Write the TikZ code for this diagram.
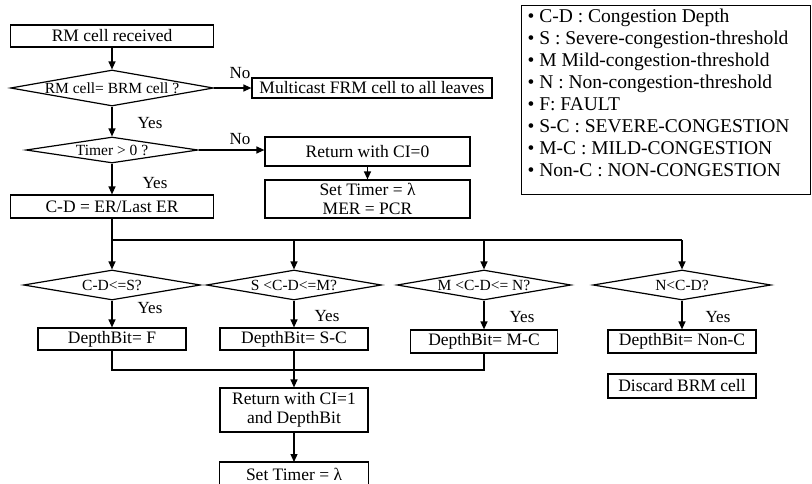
\documentclass[tikz,border=0pt]{standalone}
\usepackage{fontspec}
\setmainfont{Liberation Serif}
\usetikzlibrary{shapes.geometric,arrows.meta}
\newcommand{\dtx}[1]{\makebox[0pt][c]{#1}}
\begin{document}
\begin{tikzpicture}[x=1pt,y=-1pt,
  line width=1.2pt,
  box/.style={draw, rectangle, inner sep=0pt, font=\fontsize{17.5}{19.5}\selectfont, align=center},
  dec/.style={draw, diamond, aspect=1, inner sep=0pt, font=\fontsize{15.5}{16}\selectfont},
  lbl/.style={inner sep=0pt, font=\fontsize{17}{18}\selectfont},
  arr/.style={-{Triangle[length=8pt,width=7pt]}},
]
\useasboundingbox (0,0) rectangle (812,483);

% top column
\node[box, minimum width=203, minimum height=22] (rm) at (112,36) {RM cell received};
\node[dec, minimum width=203, minimum height=36] (d1) at (112,88) {\dtx{RM cell= BRM cell ?}};
\node[box, minimum width=240, minimum height=20] (mc) at (372,88) {Multicast FRM cell to all leaves};
\node[dec, minimum width=172, minimum height=26] (d2) at (112,150) {\dtx{Timer > 0 ?}};
\node[box, minimum width=205, minimum height=29] (ret0) at (367.5,151.5) {Return with CI=0};
\node[box, minimum width=205, minimum height=38] (set0) at (367.5,199) {Set Timer = λ\\MER = PCR};
\node[box, minimum width=203, minimum height=23] (cd) at (112,206.5) {C-D = ER/Last ER};

% labels
\node[lbl] (no1) at (240,73) {No};
\node[lbl] (yes1) at (150,123) {Yes};
\node[lbl] (no2) at (240,139) {No};
\node[lbl] (yes2) at (155,183) {Yes};

% decision row
\coordinate (bus) at (0,240);
\coordinate (col) at (0,370);
\node[dec, minimum width=177, minimum height=30] (dA) at (112,285) {\dtx{C-D<=S?}};
\node[dec, minimum width=175, minimum height=30] (dB) at (294,285) {\dtx{S <C-D<=M?}};
\node[dec, minimum width=174, minimum height=30] (dC) at (484,285) {\dtx{M <C-D<= N?}};
\node[dec, minimum width=178, minimum height=30] (dD) at (682,285) {\dtx{N<C-D?}};

\node[box, minimum width=148, minimum height=22] (fF) at (112,339) {DepthBit= F};
\node[box, minimum width=148, minimum height=22] (fS) at (294,339) {DepthBit= S-C};
\node[box, minimum width=147, minimum height=23] (fM) at (484,341.5) {DepthBit= M-C};
\node[box, minimum width=148, minimum height=23] (fN) at (682,341.5) {DepthBit= Non-C};
\node[box, minimum width=148, minimum height=24] (disc) at (682,386) {Discard BRM cell};

\node[lbl] (yA) at (150,308) {Yes};
\node[lbl] (yB) at (327,316) {Yes};
\node[lbl] (yC) at (522,317) {Yes};
\node[lbl] (yD) at (718,317) {Yes};

\node[box, minimum width=148, minimum height=44] (ret1) at (294,410) {Return with CI=1\\and DepthBit};

% last box, cut by the lower edge of the picture
\coordinate (stop) at (0,462);
\coordinate (sbot) at (0,495);
\node[box, draw=none, minimum width=148] (set1) at (294,474) {Set Timer = λ};
\draw (set1.west |- sbot) -- (set1.west |- stop) -- (set1.east |- stop) -- (set1.east |- sbot);

% legend
\node[draw, rectangle, inner sep=0pt, anchor=north west, minimum width=289, minimum height=189] (leg) at (521,5) {};
\node[inner sep=0pt, anchor=north west, align=left, font=\fontsize{19.5}{22}\selectfont] (legtxt) at (527,8) {%
• C-D : Congestion Depth\\
• S : Severe-congestion-threshold\\
• M Mild-congestion-threshold\\
• N : Non-congestion-threshold\\
• F: FAULT\\
• S-C : SEVERE-CONGESTION\\
• M-C : MILD-CONGESTION\\
• Non-C : NON-CONGESTION};

% connectors
\draw[arr] (rm.south) -- (d1.north);
\draw[arr] (d1.east) -- (mc.west);
\draw[arr] (d1.south) -- (d2.north);
\draw[arr] (d2.east) -- (d2.east -| ret0.west);
\draw[arr] (ret0.south) -- (set0.north);
\draw[arr] (d2.south) -- (cd.north);
\draw (cd.south) -- (cd.south |- bus);
\draw (dA.north |- bus) -- (dD.north |- bus);
\draw[arr] (dA.north |- bus) -- (dA.north);
\draw[arr] (dB.north |- bus) -- (dB.north);
\draw[arr] (dC.north |- bus) -- (dC.north);
\draw[arr] (dD.north |- bus) -- (dD.north);
\draw[arr] (dA.south) -- (fF.north);
\draw[arr] (dB.south) -- (fS.north);
\draw[arr] (dC.south) -- (fM.north);
\draw[arr] (dD.south) -- (fN.north);
\draw (fF.south) -- (fF.south |- col) -| (fM.south);
\draw[arr] (fS.south) -- (ret1.north);
\draw[arr] (ret1.south) -- (ret1.south |- stop);
\end{tikzpicture}
\end{document}
